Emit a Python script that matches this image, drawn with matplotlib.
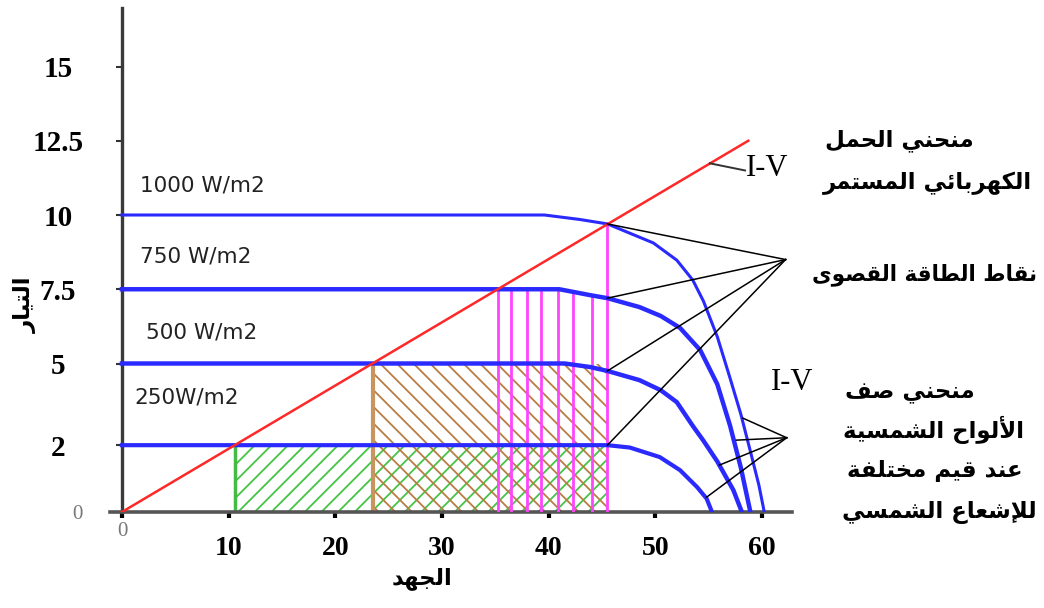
import matplotlib
matplotlib.use("Agg")
import matplotlib.pyplot as plt
import matplotlib.transforms as mtransforms
import numpy as np

# ---------------- data ----------------
# I-V curves of the panel row for 4 irradiance levels (voltage, current)
v_1000 = [0, 39.6, 42.9, 45.5, 49.8, 52.0, 53.5, 54.5, 55.8, 57.0, 58.0, 59.0, 59.7, 60.2]
i_1000 = [10, 10, 9.85, 9.7, 9.06, 8.48, 7.81, 7.1, 5.9, 4.5, 3.3, 1.9, 0.9, 0]
v_750 = [0, 41.0, 43.9, 45.5, 48.5, 50.5, 52.3, 54.2, 55.8, 57.0, 58.0, 58.9]
i_750 = [7.5, 7.5, 7.3, 7.2, 6.9, 6.6, 6.2, 5.45, 4.3, 2.9, 1.5, 0]
v_500 = [0, 41.5, 43.9, 45.5, 48.5, 50.5, 52.0, 53.5, 54.5, 55.8, 57.3, 58.1]
i_500 = [5, 5, 4.88, 4.75, 4.44, 4.1, 3.7, 2.9, 2.4, 1.7, 0.74, 0]
v_250 = [0, 42.5, 45.5, 47.6, 50.4, 52.3, 53.9, 54.8, 55.3]
i_250 = [2.25, 2.25, 2.25, 2.17, 1.85, 1.41, 0.84, 0.45, 0]
curve_labels = ["1000 W/m2", "750 W/m2", "500 W/m2", "250W/m2"]

# DC load line
load_v = [0, 58.7]
load_i = [0, 12.5]

# max power points (all on the same voltage)
mpp_v = 45.5
mpp_i = [9.7, 7.2, 4.75, 2.25]

# hatched operating areas
green_v = [10.6, 45.5]
green_top = 2.25
brown_v = [23.5, 45.5]
brown_top = 5
stripe_v = [35.2, 36.5, 38.0, 39.3, 40.9, 42.3, 44.1]

# points on the curves where the lower leader lines start
hit_v = [58.2, 57.6, 56.0, 54.8]
hit_i = [3.16, 2.42, 1.58, 0.5]

x_ticks = [0, 10, 20, 30, 40, 50, 60]
y_ticks = [0, 2.25, 5, 7.5, 10, 12.5, 15]
y_tick_labels = ["0", "2", "5", "7.5", "10", "12.5", "15"]

# ---------------- arabic shaping (matplotlib has no RTL layout) ----------------
AR_FORMS = {
    'ا': ('\uFE8D', '\uFE8E', None, None),
    'أ': ('\uFE83', '\uFE84', None, None),
    'إ': ('\uFE87', '\uFE88', None, None),
    'ئ': ('\uFE89', '\uFE8A', '\uFE8B', '\uFE8C'),
    'ب': ('\uFE8F', '\uFE90', '\uFE91', '\uFE92'),
    'ة': ('\uFE93', '\uFE94', None, None),
    'ت': ('\uFE95', '\uFE96', '\uFE97', '\uFE98'),
    'ج': ('\uFE9D', '\uFE9E', '\uFE9F', '\uFEA0'),
    'ح': ('\uFEA1', '\uFEA2', '\uFEA3', '\uFEA4'),
    'خ': ('\uFEA5', '\uFEA6', '\uFEA7', '\uFEA8'),
    'د': ('\uFEA9', '\uFEAA', None, None),
    'ر': ('\uFEAD', '\uFEAE', None, None),
    'س': ('\uFEB1', '\uFEB2', '\uFEB3', '\uFEB4'),
    'ش': ('\uFEB5', '\uFEB6', '\uFEB7', '\uFEB8'),
    'ص': ('\uFEB9', '\uFEBA', '\uFEBB', '\uFEBC'),
    'ط': ('\uFEC1', '\uFEC2', '\uFEC3', '\uFEC4'),
    'ع': ('\uFEC9', '\uFECA', '\uFECB', '\uFECC'),
    'ف': ('\uFED1', '\uFED2', '\uFED3', '\uFED4'),
    'ق': ('\uFED5', '\uFED6', '\uFED7', '\uFED8'),
    'ك': ('\uFED9', '\uFEDA', '\uFEDB', '\uFEDC'),
    'ل': ('\uFEDD', '\uFEDE', '\uFEDF', '\uFEE0'),
    'م': ('\uFEE1', '\uFEE2', '\uFEE3', '\uFEE4'),
    'ن': ('\uFEE5', '\uFEE6', '\uFEE7', '\uFEE8'),
    'ه': ('\uFEE9', '\uFEEA', '\uFEEB', '\uFEEC'),
    'و': ('\uFEED', '\uFEEE', None, None),
    'ى': ('\uFEEF', '\uFEF0', None, None),
    'ي': ('\uFEF1', '\uFEF2', '\uFEF3', '\uFEF4'),
}
LAM_ALEF = {'ا': ('\uFEFB', '\uFEFC', None, None),
            'أ': ('\uFEF7', '\uFEF8', None, None),
            'إ': ('\uFEF9', '\uFEFA', None, None)}


def ar(text):
    """logical arabic string -> presentation forms in visual (LTR) order"""
    units = []
    i = 0
    while i < len(text):
        c = text[i]
        if c == 'ل' and i + 1 < len(text) and text[i + 1] in LAM_ALEF:
            units.append(LAM_ALEF[text[i + 1]])
            i += 2
        else:
            units.append(AR_FORMS.get(c, c))
            i += 1
    out = []
    for k, u in enumerate(units):
        if isinstance(u, str):
            out.append(u)
            continue
        prev = units[k - 1] if k > 0 else None
        nxt = units[k + 1] if k + 1 < len(units) else None
        join_prev = isinstance(prev, tuple) and prev[2] is not None
        join_next = u[2] is not None and isinstance(nxt, tuple)
        if join_prev and join_next:
            out.append(u[3])
        elif join_prev:
            out.append(u[1])
        elif join_next:
            out.append(u[2])
        else:
            out.append(u[0])
    return ''.join(reversed(out))


# ---------------- figure ----------------
W, H = 1044, 608
fig = plt.figure(figsize=(W / 100, H / 100), dpi=100)
fig.patch.set_facecolor('white')
ax = fig.add_axes([110 / W, 96 / H, 682 / W, 504 / H])
ax.set_xlim(-1.12, 62.8)
ax.set_ylim(0, 16.97)

plt.rcParams['hatch.linewidth'] = 1.3

# hatched areas
ax.fill_between(green_v, 0, green_top, hatch='//', facecolor='none',
                edgecolor='#45c445', linewidth=0, zorder=1)
ax.fill_between(brown_v, 0, brown_top, hatch='\\\\', facecolor='none',
                edgecolor='#b87d45', linewidth=0, zorder=1)
ax.vlines(green_v[0], 0, green_top, color='#44bb44', lw=2.5, zorder=2)
ax.vlines(brown_v[0], 0, brown_top, color='#c8955f', lw=3, zorder=2)

# magenta stripes up to the 750 curve + max power voltage line
ax.vlines(stripe_v, 0, np.interp(stripe_v, v_750, i_750), color='#ff44ff', lw=2, zorder=3)
ax.vlines(mpp_v, 0, mpp_i[0], color='#ff44ff', lw=2, zorder=3)

# I-V curves
blue = '#2a2aff'
ax.plot(v_1000, i_1000, color=blue, lw=2.2, zorder=4)
ax.plot(v_750, i_750, color=blue, lw=3.2, zorder=4)
ax.plot(v_500, i_500, color=blue, lw=3.2, zorder=4)
ax.plot(v_250, i_250, color=blue, lw=3.0, zorder=4)

# load line
ax.plot(load_v, load_i, color='#ff2828', lw=1.8, zorder=5)

# curve labels
label_pos = [(1.7, 11.0), (1.7, 8.6), (2.3, 6.05), (1.2, 3.87)]
for txt, (x, y) in zip(curve_labels, label_pos):
    ax.text(x, y, txt, fontsize=15.5, family='DejaVu Sans', color='#222222',
            ha='left', va='center')

# leader lines
for mi in mpp_i:
    ax.plot([mpp_v, 62.2], [mi, 8.5], color='black', lw=1.1, zorder=6)
for hv, hi in zip(hit_v, hit_i):
    ax.plot([hv, 62.3], [hi, 2.5], color='black', lw=1.1, zorder=6)
ax.plot([55.1, 58.4], [11.74, 11.5], color='#333333', lw=1.4, zorder=6)

# axes look
for s in ['top', 'right']:
    ax.spines[s].set_visible(False)
ax.spines['left'].set_position(('data', 0))
ax.spines['left'].set_linewidth(2.4)
ax.spines['left'].set_color('#3a3a3a')
ax.spines['bottom'].set_linewidth(2.6)
ax.spines['bottom'].set_color('#555555')

ax.set_xticks(x_ticks)
ax.set_xticklabels([str(t) for t in x_ticks], fontsize=20, family='Liberation Serif',
                   fontweight='bold')
ax.set_yticks(y_ticks)
ax.set_yticklabels(y_tick_labels, fontsize=21, family='Liberation Serif',
                   fontweight='bold', ha='center')
ax.tick_params(axis='x', direction='out', length=4, width=3, color='black', pad=13)
ax.tick_params(axis='y', direction='out', length=4, width=1.5, color='#333333', pad=42)

# the two "0" labels are small, grey and sit closer to the axes
x0_lab = ax.get_xticklabels()[0]
y0_lab = ax.get_yticklabels()[0]
for lab in [x0_lab, y0_lab]:
    lab.set_fontsize(15)
    lab.set_fontweight('normal')
    lab.set_color('#777777')
x0_lab.set_transform(x0_lab.get_transform() +
                     mtransforms.ScaledTranslation(0, 10 / 72, fig.dpi_scale_trans))
y0_lab.set_transform(y0_lab.get_transform() +
                     mtransforms.ScaledTranslation(19 / 100, 0, fig.dpi_scale_trans))

# I-V tags
ax.text(58.5, 11.55, 'I-V', fontsize=22, family='Liberation Serif', ha='left', va='center')
fig.text(792 / W, 1 - 383 / H, 'I-V', fontsize=22, family='Liberation Serif',
         ha='center', va='center')

# arabic captions
ar_font = dict(family='DejaVu Sans', fontweight='bold', fontsize=16.5, color='black')
fig.text(825 / W, 1 - 140 / H, ar('منحني الحمل'), ha='left', va='center', **ar_font)
fig.text(823 / W, 1 - 183 / H, ar('الكهربائي المستمر'), ha='left', va='center', **ar_font)
fig.text(1037 / W, 1 - 275 / H, ar('نقاط الطاقة القصوى'), ha='right', va='center',
         **dict(ar_font, fontsize=15.5))
fig.text(845 / W, 1 - 392 / H, ar('منحني صف'), ha='left', va='center', **ar_font)
fig.text(843 / W, 1 - 430 / H, ar('الألواح الشمسية'), ha='left', va='center', **ar_font)
fig.text(847 / W, 1 - 470 / H, ar('عند قيم مختلفة'), ha='left', va='center', **ar_font)
fig.text(842 / W, 1 - 513 / H, ar('للإشعاع الشمسي'), ha='left', va='center', **ar_font)

# axis titles
fig.text(422 / W, 1 - 578 / H, ar('الجهد'), ha='center', va='center', **ar_font)
fig.text(25 / W, 1 - 305 / H, ar('التيار'), ha='center', va='center', rotation=90, **ar_font)

fig.savefig('out.png', dpi=100, facecolor='white')
